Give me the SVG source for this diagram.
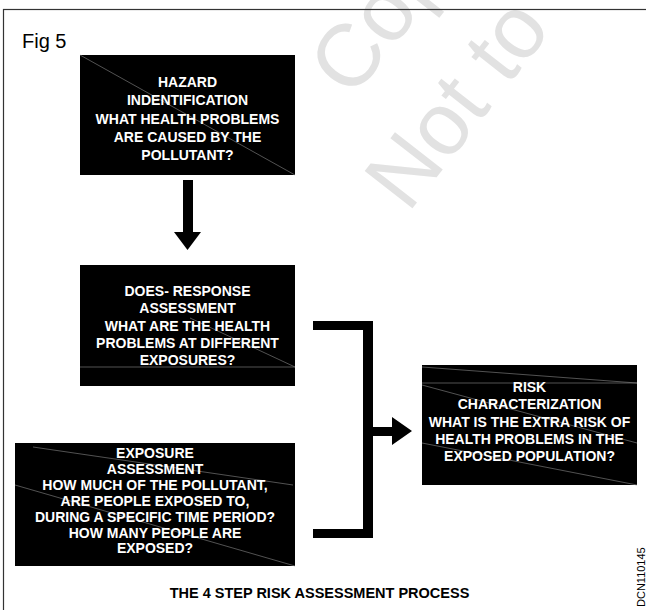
<svg xmlns="http://www.w3.org/2000/svg" width="646" height="610" viewBox="0 0 646 610">
<style>
.box{fill:#000}
.t{font-family:"Liberation Sans",Arial,sans-serif;font-weight:bold;font-size:14px;fill:#fff;text-anchor:middle}
.scan{stroke:#8a8a8a;stroke-width:0.6;fill:none}
.conn{fill:#000}
.wm{font-family:"Liberation Sans",Arial,sans-serif;font-size:88px;fill:#e2e2e2}
</style>
<rect width="646" height="610" fill="#fff"/>
<g id="watermark">
<text class="wm" transform="translate(352,100) rotate(-52)">Cop</text>
<text class="wm" transform="translate(408,214) rotate(-52)">Not to</text>
</g>
<rect x="3.5" y="9.5" width="660" height="620" fill="none" stroke="#333" stroke-width="1.2"/>
<text x="22" y="48" font-family="'Liberation Sans',Arial,sans-serif" font-size="20" fill="#000">Fig 5</text>
<g id="hazard">
<rect class="box" x="80" y="55" width="215" height="120"/>
<line class="scan" x1="80" y1="55" x2="295" y2="175"/>
<text class="t"><tspan x="187.5" y="87">HAZARD</tspan><tspan x="187.5" y="105">INDENTIFICATION</tspan><tspan x="187.5" y="124">WHAT HEALTH PROBLEMS</tspan><tspan x="187.5" y="142">ARE CAUSED BY THE</tspan><tspan x="187.5" y="160">POLLUTANT?</tspan></text>
</g>
<g id="dose-response">
<rect class="box" x="80" y="265" width="215" height="121"/>
<line class="scan" x1="190" y1="318" x2="295" y2="367"/>
<line class="scan" x1="80" y1="367" x2="295" y2="367"/>
<text class="t"><tspan x="187.5" y="296">DOES- RESPONSE</tspan><tspan x="187.5" y="313">ASSESSMENT</tspan><tspan x="187.5" y="331">WHAT ARE THE HEALTH</tspan><tspan x="187.5" y="348">PROBLEMS AT DIFFERENT</tspan><tspan x="187.5" y="365">EXPOSURES?</tspan></text>
</g>
<g id="exposure">
<rect class="box" x="15" y="443" width="280" height="123"/>
<line class="scan" x1="33" y1="447" x2="293" y2="485"/>
<line class="scan" x1="15" y1="485" x2="295" y2="566"/>
<text class="t"><tspan x="155" y="458">EXPOSURE</tspan><tspan x="155" y="474">ASSESSMENT</tspan><tspan x="155" y="490">HOW MUCH OF THE POLLUTANT,</tspan><tspan x="155" y="506">ARE PEOPLE EXPOSED TO,</tspan><tspan x="155" y="522">DURING A SPECIFIC TIME PERIOD?</tspan><tspan x="155" y="538">HOW MANY PEOPLE ARE</tspan><tspan x="155" y="553">EXPOSED?</tspan></text>
</g>
<g id="risk-characterization">
<rect class="box" x="422" y="365" width="215" height="120"/>
<line class="scan" x1="422" y1="367" x2="637" y2="383"/>
<line class="scan" x1="422" y1="383" x2="637" y2="383"/>
<line class="scan" x1="422" y1="385" x2="637" y2="443"/>
<line class="scan" x1="422" y1="443" x2="637" y2="485"/>
<text class="t"><tspan x="529.5" y="392">RISK</tspan><tspan x="529.5" y="409">CHARACTERIZATION</tspan><tspan x="529.5" y="427">WHAT IS THE EXTRA RISK OF</tspan><tspan x="529.5" y="444">HEALTH PROBLEMS IN THE</tspan><tspan x="529.5" y="461">EXPOSED POPULATION?</tspan></text>
</g>
<g id="connectors">
<path class="conn" d="M183,180 H193 V232 H201 L187.5,250 L174,232 H183 Z"/>
<path class="conn" d="M313,321 H373 V538 H313 V529 H363 V330 H313 Z"/>
<path class="conn" d="M373,427 H392 V417 L412,431 L392,445 V436 H373 Z"/>
</g>
<text x="319.5" y="598" font-family="'Liberation Sans',Arial,sans-serif" font-weight="bold" font-size="14.5" text-anchor="middle" fill="#000">THE 4 STEP RISK ASSESSMENT PROCESS</text>
<text transform="translate(645,607) rotate(-90)" font-family="'Liberation Sans',Arial,sans-serif" font-size="11" fill="#000">DCN110145</text>
</svg>
